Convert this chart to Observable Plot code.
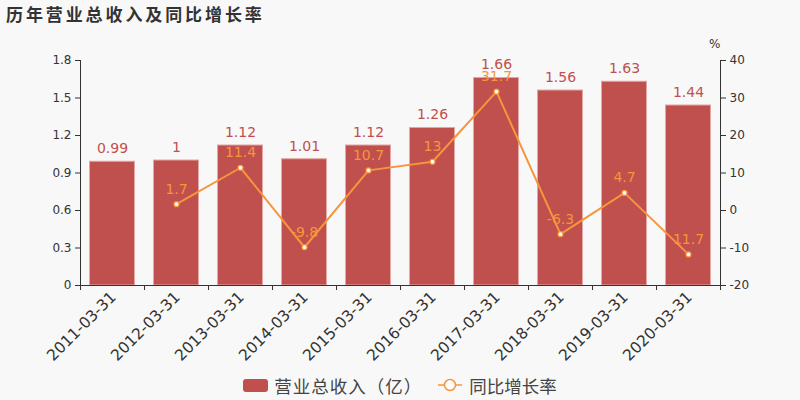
<!DOCTYPE html>
<html>
<head>
<meta charset="utf-8">
<script src="https://cdn.jsdelivr.net/npm/d3@7"></script>
<script src="https://cdn.jsdelivr.net/npm/@observablehq/plot@0.6"></script>
<style>
  html, body { margin: 0; padding: 0; background: #f8f8f8; }
  #wrap { width: 800px; height: 400px; position: relative; font-family: "DejaVu Sans", "Noto Sans CJK SC", sans-serif; }
  #title { height: 30px; line-height: 28px; padding-left: 6px; font-family: "Noto Sans CJK SC", sans-serif; font-weight: bold; font-size: 17px; letter-spacing: 2.9px; color: #333; }
  #legend { height: 30px; display: flex; justify-content: center; align-items: center; font-family: "Noto Sans CJK SC", sans-serif; font-size: 17.5px; color: #444; }
  .lg { display: flex; align-items: center; margin: 0 8px; }
  .sw { width: 25px; height: 13px; border-radius: 3px; background: #c0504d; margin-right: 6px; }
  .paren { letter-spacing: 3px; }
  svg.lgl { margin-right: 7px; }
</style>
</head>
<body>
<div id="wrap">
  <div id="title">历年营业总收入及同比增长率</div>
  <div id="chart"></div>
  <div id="legend">
    <div class="lg"><div class="sw"></div><span style="letter-spacing:1px">营业总收入（亿）</span></div>
    <div class="lg"><svg class="lgl" width="24" height="14"><line x1="0" y1="7" x2="24" y2="7" stroke="#f5963c" stroke-width="1.5"/><circle cx="12" cy="7" r="5.5" fill="#fff" stroke="#f5963c" stroke-width="1.5"/></svg><span>同比增长率</span></div>
  </div>
</div>
<script>
const years = ["2011-03-31","2012-03-31","2013-03-31","2014-03-31","2015-03-31","2016-03-31","2017-03-31","2018-03-31","2019-03-31","2020-03-31"];
const revenue = [0.99, 1, 1.12, 1.01, 1.12, 1.26, 1.66, 1.56, 1.63, 1.44];
const growth = [null, 1.7, 11.4, -9.8, 10.7, 13, 31.7, -6.3, 4.7, -11.7];
const growthLabels = ["", "1.7", "11.4", "-9.8", "10.7", "13", "31.7", "-6.3", "4.7", "11.7"];
const leftTicks = [0, 0.3, 0.6, 0.9, 1.2, 1.5, 1.8];
const rightTicks = [-20, -10, 0, 10, 20, 30, 40];

const leftMax = 1.8, rMin = -20, rMax = 40;
const toLeft = g => (g - rMin) / (rMax - rMin) * leftMax;
const fromLeft = v => Math.round(v / leftMax * (rMax - rMin) + rMin);

const rows = years.map((d, i) => ({
  year: d, revenue: revenue[i], growth: growth[i],
  gy: growth[i] == null ? null : toLeft(growth[i]), glabel: growthLabels[i]
}));
const grow = rows.filter(r => r.gy != null);

const red = "#c0504d", orange = "#f5963c", ink = "#333";
const step = 64;

const chart = Plot.plot({
  width: 800, height: 340,
  marginTop: 30, marginBottom: 85, marginLeft: 80, marginRight: 80,
  style: { background: "transparent", fontFamily: "DejaVu Sans, sans-serif", color: ink },
  x: { domain: years, padding: 0 },
  y: { domain: [0, leftMax] },
  marks: [
    Plot.barY(rows, { x: "year", y: "revenue", fill: red, stroke: "#e3a5a3", strokeWidth: 1, insetLeft: 9.5, insetRight: 9.5 }),
    Plot.ruleY([0], { stroke: ink, strokeWidth: 1 }),
    Plot.ruleX([years[0]], { dx: -step / 2, y1: 0, y2: leftMax, stroke: ink }),
    Plot.ruleX([years[years.length - 1]], { dx: step / 2, y1: 0, y2: leftMax, stroke: ink }),
    Plot.axisY({ anchor: "left", ticks: leftTicks, tickFormat: d => String(d), tickSize: 5, tickPadding: 4, fontSize: 12, label: null, stroke: ink }),
    Plot.axisY({ anchor: "right", ticks: rightTicks.map(toLeft), tickFormat: d => String(fromLeft(d)), tickSize: 5, tickPadding: 4, fontSize: 12, label: null, stroke: ink }),
    Plot.axisX({ ticks: years, tickFormat: null, text: null, tickSize: 5, dx: -step / 2, label: null, stroke: ink }),
    Plot.axisX({ ticks: [years[years.length - 1]], text: null, tickSize: 5, dx: step / 2, label: null, stroke: ink }),
    Plot.axisX({ ticks: years, tickSize: 0, tickPadding: 9, tickRotate: -45, fontSize: 15.5, label: null, dx: 1 }),
    Plot.text(rows, { x: "year", y: "revenue", text: d => String(d.revenue), dy: -13, fill: red, fontSize: 14 }),
    Plot.line(grow, { x: "year", y: "gy", stroke: orange, strokeWidth: 2 }),
    Plot.dot(grow, { x: "year", y: "gy", r: 2.5, fill: "#fff", stroke: orange, strokeWidth: 1.2 }),
    Plot.text(grow, { x: "year", y: "gy", text: "glabel", dy: -15, fill: orange, fontSize: 14 }),
    Plot.text(["%"], { frameAnchor: "top-right", dy: -21, text: d => d, fill: ink, fontSize: 12 })
  ]
});
document.getElementById("chart").appendChild(chart);
</script>
</body>
</html>
